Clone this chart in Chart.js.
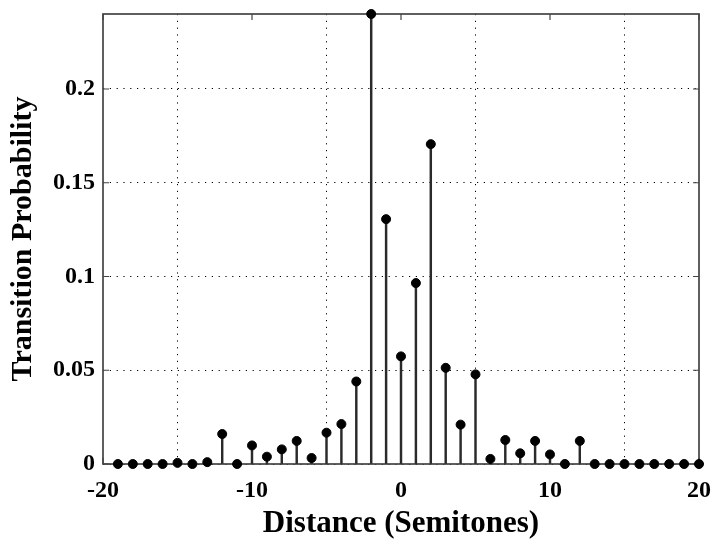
<!DOCTYPE html>
<html>
<head>
<meta charset="utf-8">
<script src="https://cdn.jsdelivr.net/npm/chart.js@4/dist/chart.umd.min.js"></script>
<style>
  html, body { margin: 0; padding: 0; background: #fff; }
  canvas { display: block; }
</style>
</head>
<body>
<canvas id="c" width="712" height="546"></canvas>
<script>
// Semitone distance (x) and transition probability (y)
const distances = [-19,-18,-17,-16,-15,-14,-13,-12,-11,-10,-9,-8,-7,-6,-5,-4,-3,-2,-1,0,
                   1,2,3,4,5,6,7,8,9,10,11,12,13,14,15,16,17,18,19,20];
const probabilities = [0,0,0,0,0.0006,0,0.001,0.016,0,0.0099,0.0039,0.0078,0.0123,0.0032,0.0167,0.0213,0.044,0.24,0.1306,0.0574,
                       0.0965,0.1706,0.0513,0.021,0.0478,0.0027,0.0128,0.0057,0.0123,0.0051,0,0.0123,0,0,0,0,0,0,0,0];
const xTicks = [-20,-10,0,10,20];
const yTicks = [0,0.05,0.1,0.15,0.2];
const xRange = [-20, 20];
const yRange = [0, 0.24];
const xTitle = 'Distance (Semitones)';
const yTitle = 'Transition Probability';

const points = distances.map((d, i) => ({ x: d, y: probabilities[i] }));

const FONT = "'Liberation Serif', 'Times New Roman', serif";
const STEM = '#2a2a2a';
const FRAME = '#444';

const boxPlugin = {
  id: 'box',
  beforeDatasetsDraw(chart) {
    const { ctx, chartArea: a, scales } = chart;
    ctx.save();
    ctx.strokeStyle = FRAME;
    ctx.lineWidth = 1.7;
    ctx.strokeRect(a.left, a.top, a.right - a.left, a.bottom - a.top);
    // inward tick marks on all four sides
    const tl = 6;
    ctx.lineWidth = 1.2;
    ctx.beginPath();
    xTicks.forEach(v => {
      const px = scales.x.getPixelForValue(v);
      ctx.moveTo(px, a.bottom); ctx.lineTo(px, a.bottom - tl);
      ctx.moveTo(px, a.top); ctx.lineTo(px, a.top + tl);
    });
    yTicks.forEach(v => {
      const py = scales.y.getPixelForValue(v);
      ctx.moveTo(a.left, py); ctx.lineTo(a.left + tl, py);
      ctx.moveTo(a.right, py); ctx.lineTo(a.right - tl, py);
    });
    ctx.stroke();
    ctx.restore();
  }
};

function noPad(s) {
  s.paddingTop = 0; s.paddingBottom = 0; s.paddingLeft = 0; s.paddingRight = 0;
}

new Chart(document.getElementById('c'), {
  type: 'scatter',
  data: {
    datasets: [
      {
        type: 'scatter',
        data: points,
        order: 0,
        pointRadius: 4.5,
        pointBackgroundColor: '#000',
        pointBorderColor: '#000',
        pointBorderWidth: 1,
        clip: false
      },
      {
        type: 'bar',
        data: points,
        order: 1,
        backgroundColor: STEM,
        borderWidth: 0,
        barThickness: 1.8,
        grouped: false,
        clip: false
      }
    ]
  },
  plugins: [boxPlugin],
  options: {
    responsive: false,
    animation: false,
    devicePixelRatio: 1,
    layout: { padding: { left: 0, right: 13, top: 14, bottom: 0 } },
    plugins: { legend: { display: false }, tooltip: { enabled: false } },
    scales: {
      x: {
        type: 'linear',
        min: xRange[0], max: xRange[1],
        offset: false,
        afterBuildTicks: s => { s.ticks = xTicks.map(v => ({ value: v })); },
        afterFit: s => { s.height = 82; noPad(s); },
        grid: { color: '#000', lineWidth: 1, drawTicks: false },
        border: { display: false, dash: [1.2, 5.6] },
        ticks: {
          padding: 12,
          color: '#000',
          maxRotation: 0,
          autoSkip: false,
          font: { family: FONT, size: 24, weight: 'bold' },
          callback: v => String(v)
        },
        title: {
          display: true, text: xTitle, color: '#000',
          font: { family: FONT, size: 31, weight: 'bold' },
          padding: { top: 0, bottom: 3 }
        }
      },
      y: {
        type: 'linear',
        min: yRange[0], max: yRange[1],
        afterBuildTicks: s => { s.ticks = yTicks.map(v => ({ value: v })); },
        afterFit: s => { s.width = 103; noPad(s); },
        grid: { color: '#000', lineWidth: 1, drawTicks: false },
        border: { display: false, dash: [1.2, 5.6] },
        ticks: {
          padding: 8,
          color: '#000',
          autoSkip: false,
          font: { family: FONT, size: 24, weight: 'bold' },
          callback: v => String(v)
        },
        title: {
          display: true, text: yTitle, color: '#000',
          font: { family: FONT, size: 30, weight: 'bold' },
          padding: { top: 5, bottom: 0 }
        }
      }
    }
  }
});
</script>
</body>
</html>
